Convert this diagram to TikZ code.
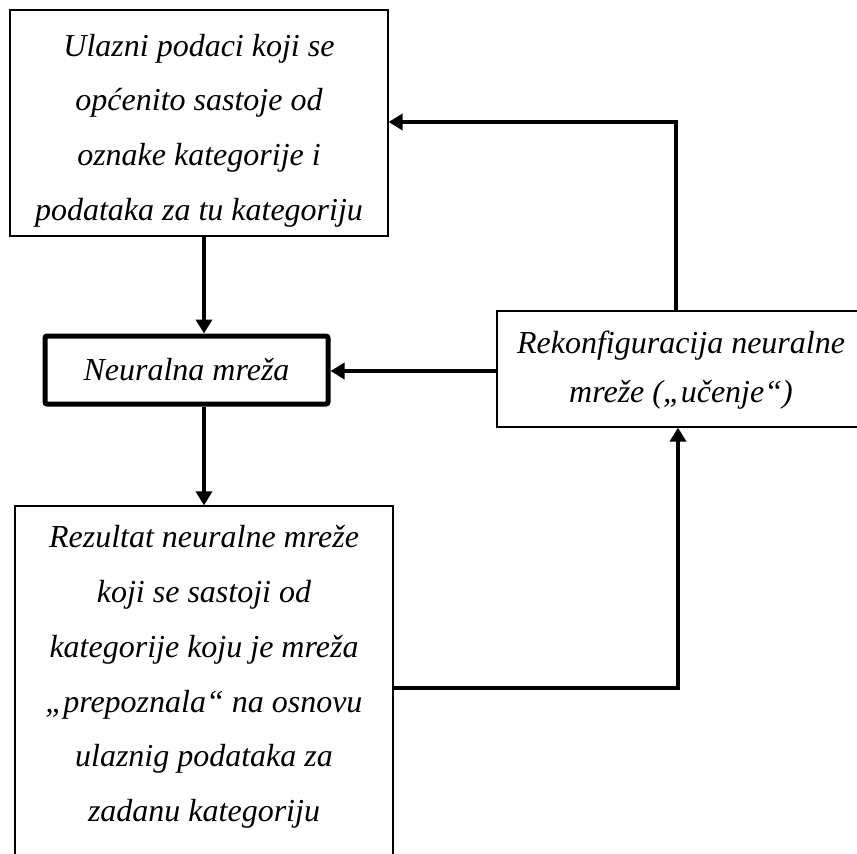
\documentclass[tikz,border=0pt]{standalone}
\usepackage{fontspec}
\setmainfont{Liberation Serif}
\usetikzlibrary{arrows.meta}
\begin{document}
\begin{tikzpicture}[x=0.5pt,y=-0.5pt,
  thinbox/.style={draw, line width=0.6pt, inner sep=0pt},
  thickbox/.style={draw, line width=2.5pt, inner sep=0pt, rounded corners=1pt},
  boxtext/.style={align=center, inner sep=0pt, font=\fontsize{16pt}{27.4pt}\selectfont\itshape},
  conn/.style={line width=2pt, -{Triangle[length=7pt,width=8pt]}}]
\useasboundingbox (0,0) rectangle (857,853);
\clip (0,0) rectangle (857,853);
% boxes
\node[thinbox, minimum width=189pt, minimum height=113pt] (top) at (199,123) {};
\node[boxtext] (toptxt) at (199,130.5) {Ulazni podaci koji se\\općenito sastoje od\\oznake kategorije i\\podataka za tu kategoriju};
\node[thickbox, minimum width=141.5pt, minimum height=34pt, font=\fontsize{16pt}{20pt}\selectfont\itshape] (nn) at (186.5,370) {Neuralna mreža};
\node[thinbox, minimum width=184pt, minimum height=58pt] (rk) at (681,369) {};
\node[boxtext, font=\fontsize{16pt}{24.5pt}\selectfont\itshape] (rktxt) at (681,370) {Rekonfiguracija neuralne\\mreže („učenje“)};
\node[thinbox, minimum width=189pt, minimum height=182pt] (bot) at (204,688) {};
\node[boxtext] (bottxt) at (204,677) {Rezultat neuralne mreže\\koji se sastoji od\\kategorije koju je mreža\\„prepoznala“ na osnovu\\ulaznig podataka za\\zadanu kategoriju};
% helper coordinates
\coordinate (ax) at (204,0);
\coordinate (ay) at (0,371);
\coordinate (fb1) at (676,122);
\coordinate (fb2) at (678,688);
% connectors
\draw[conn] (top.south -| ax) -- (nn.north -| ax);
\draw[conn] (nn.south -| ax) -- (bot.north -| ax);
\draw[conn] (rk.west |- ay) -- (nn.east |- ay);
\draw[conn] (rk.north -| fb1) |- (top.east |- fb1);
\draw[conn] (bot.east |- fb2) -| (rk.south -| fb2);
\end{tikzpicture}
\end{document}
